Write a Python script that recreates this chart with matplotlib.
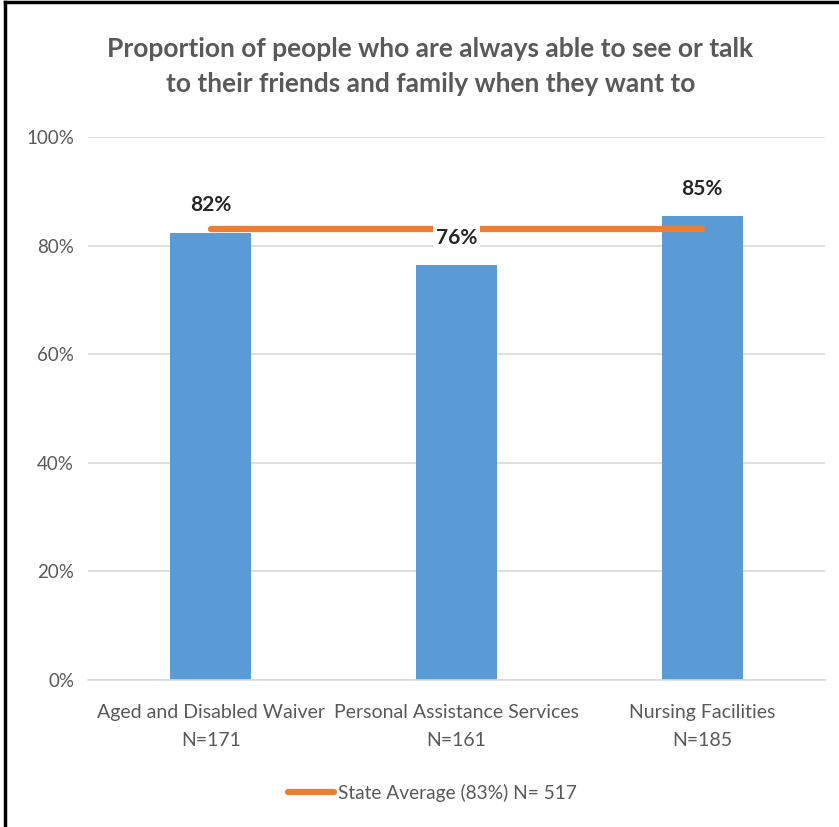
import matplotlib.pyplot as plt
from matplotlib.lines import Line2D
from matplotlib.ticker import PercentFormatter

# Survey results by program
programs = ['Aged and Disabled Waiver', 'Personal Assistance Services', 'Nursing Facilities']
sample_sizes = [171, 161, 185]
pct_always = [82.4, 76.4, 85.4]
state_avg = 83
state_n = 517

plt.rcParams['font.family'] = ['Lato', 'DejaVu Sans']

fig = plt.figure(figsize=(8.39, 8.27), dpi=100)
ax = fig.add_axes([0.1049, 0.1778, 0.8784, 0.6566])

x = range(len(programs))
ax.bar(x, pct_always, width=0.33, color='#5b9bd5', zorder=2)

# state average line spans bar centres
ax.plot([0, len(programs) - 1], [state_avg, state_avg], color='#ed7d31',
        linewidth=4.5, solid_capstyle='round', zorder=3)

for i, v in enumerate(pct_always):
    ax.text(i, v + 5, f'{v:.0f}%', ha='center', va='center', fontsize=15,
            fontweight='bold', color='#262626', zorder=4,
            bbox=dict(facecolor='white', edgecolor='none', pad=2))

ax.set_xlim(-0.5, 2.5)
ax.set_ylim(0, 100)
ax.set_yticks(range(0, 101, 20))
ax.yaxis.set_major_formatter(PercentFormatter(decimals=0))
ax.set_xticks(list(x))
ax.set_xticklabels([f'{p}\nN={n}' for p, n in zip(programs, sample_sizes)],
                   linespacing=1.85)
ax.tick_params(axis='both', length=0, labelcolor='#595959')
ax.tick_params(axis='x', pad=17, labelsize=14)
ax.tick_params(axis='y', pad=10, labelsize=13.5)
ax.grid(axis='y', color='#d9d9d9', linewidth=1.2, zorder=0)
ax.set_axisbelow(True)
for side in ['top', 'right', 'left']:
    ax.spines[side].set_visible(False)
ax.spines['bottom'].set_color('#d9d9d9')
ax.spines['bottom'].set_linewidth(1.2)

fig.text(0.513, 0.920, 'Proportion of people who are always able to see or talk\n'
         'to their friends and family when they want to',
         ha='center', va='center', fontsize=19, fontweight='bold',
         color='#595959', linespacing=1.55)

handle = Line2D([], [], color='#ed7d31', linewidth=4.5, solid_capstyle='round')
fig.legend([handle], [f'State Average ({state_avg}%) N= {state_n}'],
           loc='center', bbox_to_anchor=(0.515, 0.041), frameon=False,
           fontsize=13.8, labelcolor='#595959', handlelength=2.4, handletextpad=0.2)

# outer frame on left and top edges
fig.add_artist(Line2D([0.006, 0.006], [0, 0.997], color='black', linewidth=2.5,
                      transform=fig.transFigure))
fig.add_artist(Line2D([0.006, 1], [0.997, 0.997], color='black', linewidth=2.5,
                      transform=fig.transFigure))

fig.savefig('out.png', dpi=100)
